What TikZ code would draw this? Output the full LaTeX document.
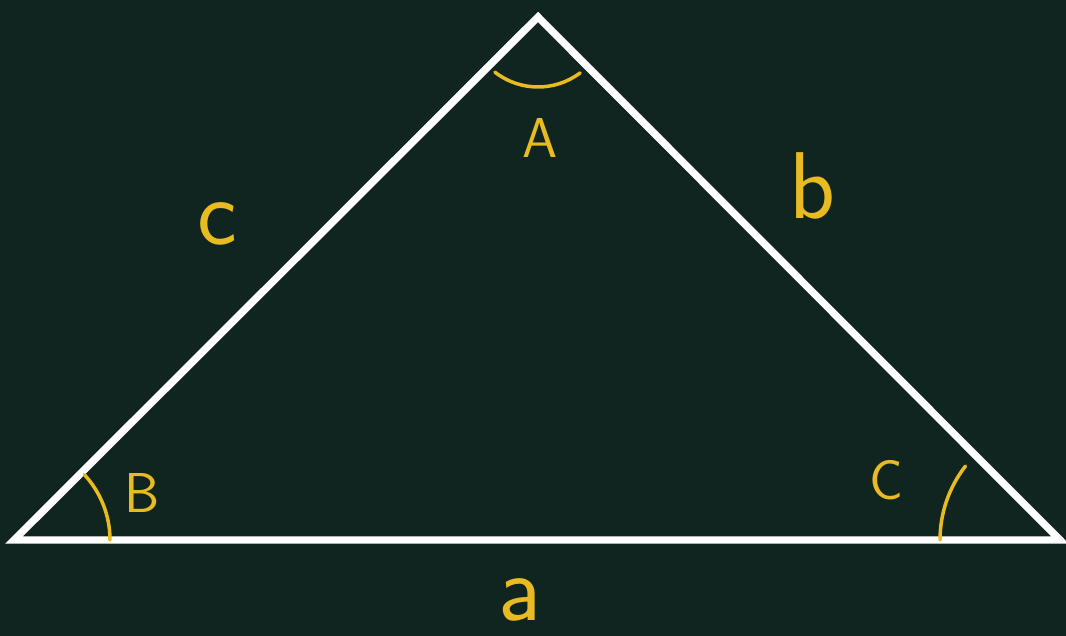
\documentclass[tikz,border=0pt]{standalone}
\usepackage{fontspec}
\setmainfont{Fira Sans}
\usepackage{xcolor}
\definecolor{board}{HTML}{10251F}
\definecolor{chalk}{HTML}{E9BB22}
\usetikzlibrary{calc}

\tikzset{
  side/.style={white, line width=2.1pt, line join=miter},
  arcmark/.style={chalk, line width=1pt, line cap=round},
  biglbl/.style={text=chalk, font=\fontsize{16}{16}\selectfont\sffamily},
  smalllbl/.style={text=chalk, font=\fontsize{27}{27}\selectfont\sffamily},
}

\begin{document}
\begin{tikzpicture}
%\draw[step=0.5cm,gray,very thin] (0,0) grid (10.66,6.36); %background grid
\fill[board] (0,0) rectangle (10.66,6.36);
\useasboundingbox (0,0) rectangle (10.66,6.36);

\coordinate (vB) at (0.14,0.96);
\coordinate (vA) at (5.38,6.19);
\coordinate (vC) at (10.60,0.96);

\draw[side] (vB) -- (vA) -- (vC) -- cycle;

% angle marks
\draw[arcmark] ($(vA)+(232:0.70)$) arc (232:307:0.70);
\draw[arcmark] ($(vB)+(0:0.96)$) arc (0:43:0.96);
\draw[arcmark] ($(vC)+(142:1.20)$) arc (142:180:1.20);

% labels
\node[biglbl] (lA) at (5.40,4.98) {A};
\node[biglbl] (lB) at (1.42,1.43) {B};
\node[biglbl] (lC) at (8.86,1.56) {C};

\node[smalllbl] (la) at (5.20,0.36) {a};
\node[smalllbl] (lb) at (8.12,4.50) {b};
\node[smalllbl] (lc) at (2.17,4.12) {c};

\end{tikzpicture}
\end{document}
